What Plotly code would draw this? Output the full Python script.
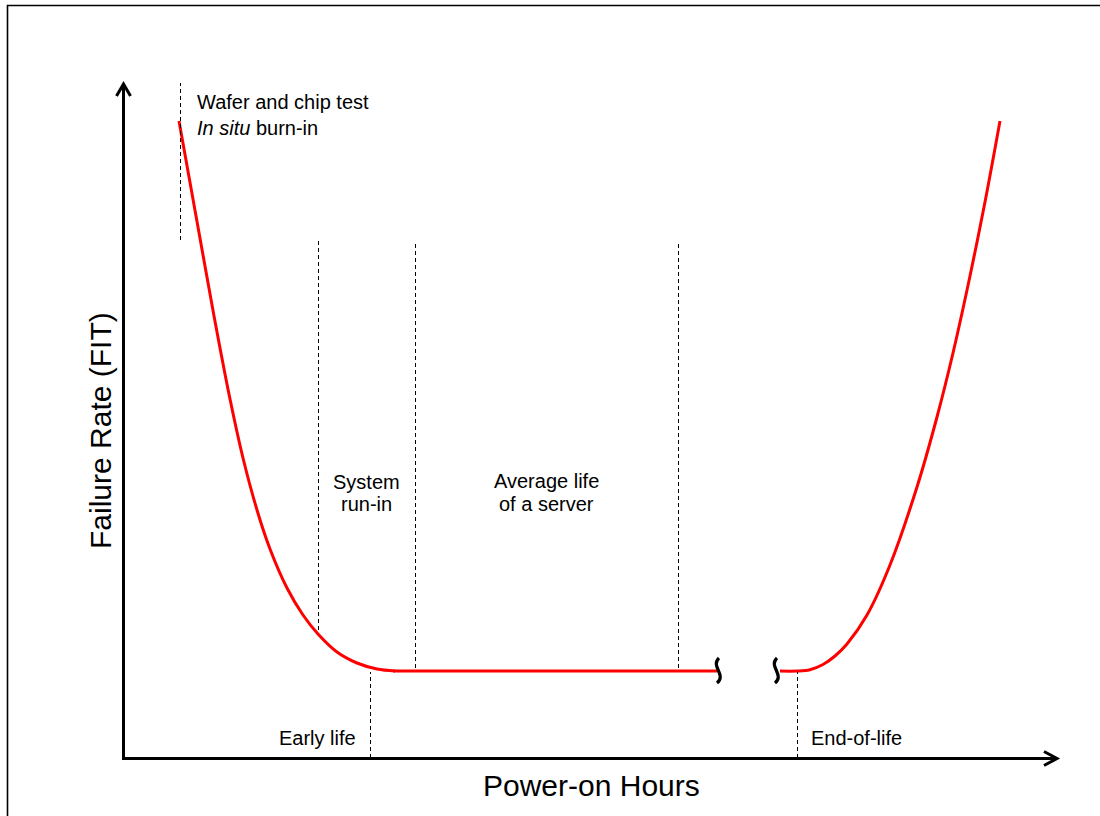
import plotly.graph_objects as go

# Bathtub curve: failure rate vs. power-on hours (arbitrary units, origin at the axes corner)
early_hours = [56, 80, 94, 107, 120, 134, 147, 164, 180, 195, 214, 234, 254, 272]
early_fit = [637, 503, 426, 359, 300, 248, 209, 170, 143, 124, 106, 95, 89, 87]

useful_hours = [270, 594]
useful_fit = [87, 87]

wearout_hours = [657, 674, 687, 700, 712, 724, 744, 767, 794, 814, 830, 847, 862, 877]
wearout_fit = [87, 87, 88.3, 93.5, 102, 114, 143, 193, 271, 341, 405, 482, 556, 637]

# Phase boundaries (x position, y bottom, y top)
upper_markers = [(57.5, 518, 675), (195.5, 128, 517), (292.5, 90, 517), (555.5, 90, 517)]
lower_markers = [(247.5, 0, 86), (674.5, 0, 86)]

# Axis-break glyph positions on the time axis
break_positions = [595, 653]
floor_fit = 87

X_END = 934   # x-axis arrow tip
Y_END = 674   # y-axis arrow tip

FONT = "Liberation Sans, Arial, sans-serif"
RED = "#ff0000"

fig = go.Figure()

for xs, ys in [(early_hours, early_fit), (useful_hours, useful_fit), (wearout_hours, wearout_fit)]:
    fig.add_trace(go.Scatter(
        x=xs, y=ys, mode="lines",
        line=dict(color=RED, width=3, shape="spline", smoothing=1.0),
        hoverinfo="skip", showlegend=False,
    ))

shapes = []

# outer frame
shapes.append(dict(type="rect", xref="paper", yref="paper",
                   x0=7.5 / 1100, x1=1.02, y0=-0.02, y1=1 - 5.5 / 816,
                   line=dict(color="black", width=1.6), fillcolor="rgba(0,0,0,0)", layer="below"))

# dashed phase markers
for x, y0, y1 in upper_markers + lower_markers:
    shapes.append(dict(type="line", xref="x", yref="y", x0=x, x1=x, y0=y0, y1=y1,
                       line=dict(color="black", width=1, dash="4px,3px")))

# axes with open arrowheads
shapes.append(dict(type="line", xref="x", yref="y", x0=0.5, x1=0.5, y0=-0.5, y1=Y_END,
                   line=dict(color="black", width=3)))
shapes.append(dict(type="line", xref="x", yref="y", x0=-1, x1=X_END, y0=-0.5, y1=-0.5,
                   line=dict(color="black", width=3)))
shapes.append(dict(type="path", xref="x", yref="y",
                   path=f"M -6.5,{Y_END - 12} L 0.5,{Y_END} L 7.5,{Y_END - 12}",
                   line=dict(color="black", width=3)))
shapes.append(dict(type="path", xref="x", yref="y",
                   path=f"M {X_END - 13},6.5 L {X_END},-0.5 L {X_END - 13},-7.5",
                   line=dict(color="black", width=3)))

# axis-break squiggles
for bx in break_positions:
    top = floor_fit + 13
    bot = floor_fit - 12
    shapes.append(dict(type="path", xref="x", yref="y",
                       path=(f"M {bx + 1},{top} C {bx - 8},{top - 8} {bx + 9},{bot + 8} {bx - 1},{bot}"),
                       line=dict(color="black", width=3.2)))

annotations = [
    dict(x=72, y=643, text="Wafer and chip test<br><i>In situ</i> burn-in",
         xanchor="left", yanchor="middle", align="left", font=dict(size=20)),
    dict(x=243, y=276, text="System", xanchor="center", yanchor="middle", font=dict(size=20)),
    dict(x=243, y=254, text="run-in", xanchor="center", yanchor="middle", font=dict(size=20)),
    dict(x=423, y=277, text="Average life", xanchor="center", yanchor="middle", font=dict(size=20)),
    dict(x=423, y=254, text="of a server", xanchor="center", yanchor="middle", font=dict(size=20)),
    dict(x=235, y=20, text="Early life", xanchor="right", yanchor="middle", font=dict(size=20)),
    dict(x=686, y=20, text="End-of-life", xanchor="left", yanchor="middle", font=dict(size=20)),
    dict(x=468, y=-27, text="Power-on Hours", xanchor="center", yanchor="middle", font=dict(size=30)),
    dict(x=-23, y=327, text="Failure Rate (FIT)", textangle=-90, xanchor="center",
         yanchor="middle", font=dict(size=30)),
]
for a in annotations:
    a.update(xref="x", yref="y", showarrow=False)
    a["font"].update(family=FONT, color="black")

fig.update_layout(
    width=1100, height=816,
    margin=dict(l=0, r=0, t=0, b=0),
    paper_bgcolor="white", plot_bgcolor="white",
    xaxis=dict(range=[-123, 977], visible=False, fixedrange=True),
    yaxis=dict(range=[-58, 758], visible=False, fixedrange=True),
    shapes=shapes, annotations=annotations,
    font=dict(family=FONT, color="black"),
    showlegend=False,
)

fig.write_html("out.html", config={"displayModeBar": False})
